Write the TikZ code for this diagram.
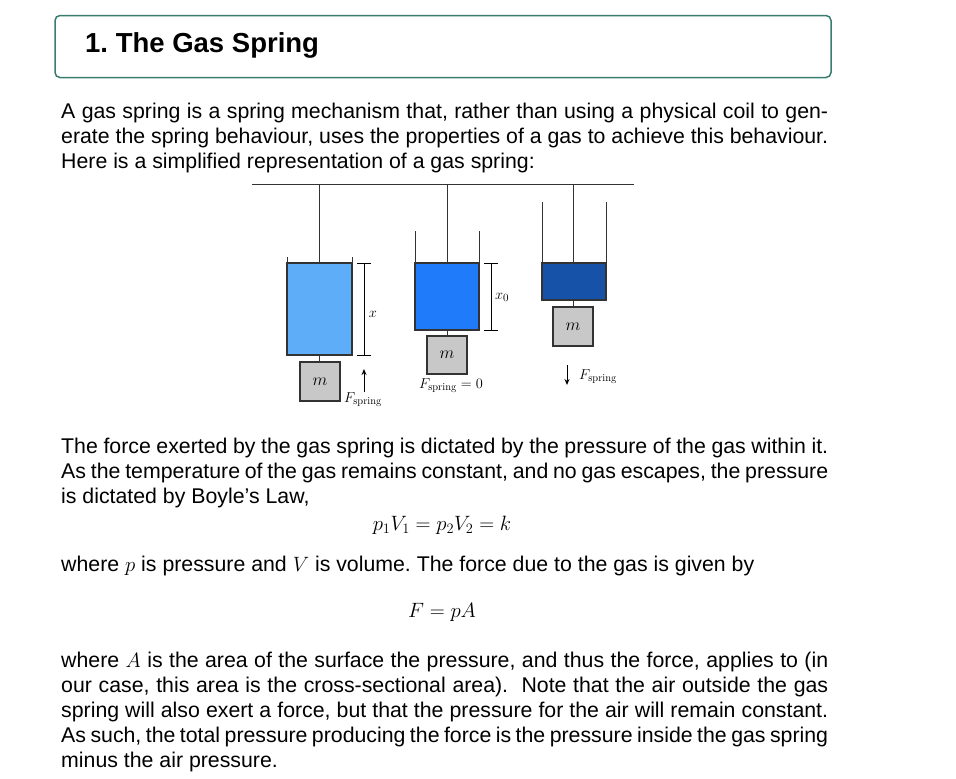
\documentclass[tikz,border=0pt]{standalone}
\usetikzlibrary{arrows.meta}
\usepackage{fontspec}
\setmainfont{Liberation Sans}
\newfontfamily\lmr{Latin Modern Roman}
\frenchspacing
\definecolor{teal1}{HTML}{3A7D70}
\definecolor{bl1}{HTML}{5DADF9}
\definecolor{bl2}{HTML}{1F7BFA}
\definecolor{bl3}{HTML}{1652A8}
\definecolor{gr}{HTML}{C8C8C8}
\newcommand{\spr}{\hbox{\fontsize{10.5}{11}\selectfont\lmr spring}}
\newcommand{\jl}[1]{\makebox[767pt][s]{#1}}
\tikzset{
 body/.style={anchor=west,inner sep=0,font=\fontsize{21.3}{22}\selectfont},
 eqn/.style={inner sep=0,font=\fontsize{22}{24}\selectfont},
 lab/.style={inner sep=0,font=\fontsize{15}{16}\selectfont},
 ln/.style={line width=1pt,draw=black!80},
 gas/.style={line width=1.2pt,draw=black!80},
 mass/.style={line width=1.2pt,draw=black!80,fill=gr,font=\fontsize{16}{17}\selectfont},
 arr/.style={-{Stealth[length=6pt,width=5pt]},line width=1pt}
}
\begin{document}
\begin{tikzpicture}[x=1pt,y=-1pt]
\useasboundingbox (0,0) rectangle (956,779);
\fill[white] (0,0) rectangle (956,779);
\node[draw=teal1,line width=1.5pt,rounded corners=5pt,minimum width=776,minimum height=62,inner sep=0] (title) at (443,46.5) {};
\node[anchor=west,inner sep=0,font=\fontsize{27.5}{30}\selectfont\bfseries] (tt) at (85,45.5) {1. The Gas Spring};
\node[body] (l1) at (61,113) {\jl{A gas spring is a spring mechanism that, rather than using a physical coil to gen-}};
\node[body] (l2) at (61,138) {\jl{erate the spring behaviour, uses the properties of a gas to achieve this behaviour.}};
\node[body] (l3) at (61,163) {Here is a simplified representation of a gas spring:};
\draw[ln] (252,184) -- (634,184);
\draw[gas,fill=bl1] (287,263) rectangle (352,355);
\draw[ln] (287,257) -- (287,263) (352,257) -- (352,263);
\draw[ln] (319,184) -- (319,263) (319,355) -- (319,362);
\node[mass,minimum width=40,minimum height=39,inner sep=0] (m1) at (320,381.5) {$m$};
\draw[line width=0.6pt] (364,263) -- (364,355) (357,263) -- (371,263) (357,355) -- (371,355);
\node[lab] (x) at (373,314) {$x$};
\draw[arr] (364,392) -- (364,369);
\node[lab,anchor=west] (f1) at (344,400) {$F_{\spr}$};
\draw[gas,fill=bl2] (415,263) rectangle (479,330);
\draw[ln] (415,231) -- (415,263) (479,231) -- (479,263);
\draw[ln] (447,184) -- (447,263) (447,330) -- (447,336);
\node[mass,minimum width=40,minimum height=38,inner sep=0] (m2) at (447,355) {$m$};
\draw[line width=0.6pt] (491,263) -- (491,330) (484,263) -- (498,263) (484,330) -- (498,330);
\node[lab,anchor=west] (x0) at (495,297) {$x_0$};
\node[lab] (f2) at (451,386) {$F_{\spr}=0$};
\draw[gas,fill=bl3] (542,263) rectangle (606,300);
\draw[ln] (542,202) -- (542,263) (606,202) -- (606,263);
\draw[ln] (573,184) -- (573,263) (573,300) -- (573,307);
\node[mass,minimum width=40,minimum height=39,inner sep=0] (m3) at (573,326.5) {$m$};
\draw[arr] (567,365) -- (567,385);
\node[lab,anchor=west] (f3) at (579,377) {$F_{\spr}$};
\node[body] (l4) at (61,448) {\jl{The force exerted by the gas spring is dictated by the pressure of the gas within it.}};
\node[body] (l5) at (61,473) {\jl{As the temperature of the gas remains constant, and no gas escapes, the pressure}};
\node[body] (l6) at (61,498) {is dictated by Boyle's Law,};
\node[eqn] (e1) at (442,525) {$p_1V_1=p_2V_2=k$};
\node[body] (l7) at (61,566) {where $p$ is pressure and $V$ is volume. The force due to the gas is given by};
\node[eqn] (e2) at (442,612) {$F=pA$};
\node[body] (l8) at (61,662) {\jl{where $A$ is the area of the surface the pressure, and thus the force, applies to (in}};
\node[body] (l9) at (61,687) {\jl{our case, this area is the cross-sectional area). \ Note that the air outside the gas}};
\node[body] (l10) at (61,712) {\jl{spring will also exert a force, but that the pressure for the air will remain constant.}};
\node[body] (l11) at (61,737) {\jl{As such, the total pressure producing the force is the pressure inside the gas spring}};
\node[body] (l12) at (61,762) {minus the air pressure.};
\end{tikzpicture}
\end{document}
